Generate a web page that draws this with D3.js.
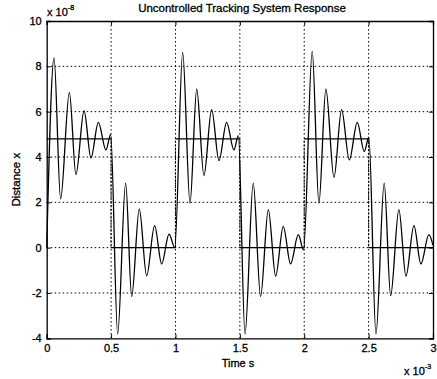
<!DOCTYPE html>
<html>
<head>
<meta charset="utf-8">
<script src="https://cdn.jsdelivr.net/npm/d3@7"></script>
<style>
  body { margin: 0; background: #fff; }
  svg { display: block; font-family: "Liberation Sans", Arial, sans-serif; }
  text { stroke: #000; stroke-width: 0.3px; fill: #000; }
</style>
</head>
<body>
<svg id="chart" width="437" height="379"></svg>
<script>
// time in units of 1e-3 s, distance in units of 1e-8
const xTicks = [0, 0.5, 1, 1.5, 2, 2.5, 3];
const yTicks = [-4, -2, 0, 2, 4, 6, 8, 10];

// reference (square wave input)
const inputTime  = [0, 0.5, 0.5, 1, 1, 1.5, 1.5, 2, 2, 2.5, 2.5, 3];
const inputValue = [4.8, 4.8, 0, 0, 4.8, 4.8, 0, 0, 4.8, 4.8, 0, 0];

// response extrema
const responseTime = [
  0, 0.057, 0.108, 0.176, 0.227, 0.29, 0.344, 0.401, 0.46, 0.497,
  0.551, 0.613, 0.66, 0.719, 0.776, 0.838, 0.893, 0.95, 0.995,
  1.056, 1.113, 1.165, 1.221, 1.281, 1.338, 1.397, 1.454, 1.488,
  1.54, 1.604, 1.661, 1.721, 1.778, 1.837, 1.894, 1.954, 1.995,
  2.062, 2.114, 2.168, 2.231, 2.29, 2.35, 2.412, 2.466, 2.502,
  2.557, 2.621, 2.671, 2.735, 2.79, 2.852, 2.906, 2.968, 3.0
];
const responseValue = [
  0, 8.37, 2.15, 6.85, 3.22, 6.04, 3.96, 5.53, 4.31, 5.0,
  -3.81, 2.85, -2.16, 1.71, -1.24, 0.97, -0.72, 0.6, 0.0,
  8.62, 1.96, 7.0, 3.18, 6.09, 3.84, 5.53, 4.31, 4.94,
  -3.81, 2.85, -2.16, 1.68, -1.26, 0.94, -0.72, 0.57, -0.1,
  8.66, 1.96, 7.0, 3.1, 6.09, 3.87, 5.53, 4.24, 4.87,
  -3.81, 2.85, -2.12, 1.68, -1.26, 0.97, -0.72, 0.57, 0.1
];

const svg = d3.select('#chart');
const m = { left: 46.7, right: 433, top: 21, bottom: 338.3 };

const x = d3.scaleLinear().domain([0, 3]).range([m.left, m.right]);
const y = d3.scaleLinear().domain([-4, 10]).range([m.bottom, m.top]);

// Grid
const grid = svg.append('g').attr('stroke', '#000').attr('stroke-width', 1)
  .attr('stroke-dasharray', '1.5,2.5');
grid.selectAll('line.gx')
  .data(xTicks.slice(1, -1))
  .enter().append('line')
  .attr('x1', d => x(d)).attr('x2', d => x(d))
  .attr('y1', m.top).attr('y2', m.bottom);
grid.selectAll('line.gy')
  .data(yTicks.slice(1, -1))
  .enter().append('line')
  .attr('x1', m.left).attr('x2', m.right)
  .attr('y1', d => y(d)).attr('y2', d => y(d));

// Input square wave
const segs = d3.range(inputTime.length - 1).map(i => ({
  x0: inputTime[i], y0: inputValue[i], x1: inputTime[i + 1], y1: inputValue[i + 1]
}));
svg.append('g').selectAll('line')
  .data(segs)
  .enter().append('line')
  .attr('x1', d => x(d.x0)).attr('y1', d => y(d.y0))
  .attr('x2', d => x(d.x1)).attr('y2', d => y(d.y1))
  .attr('stroke', '#000')
  .attr('stroke-width', 1.1)
  .attr('stroke-dasharray', d => d.x0 === d.x1 ? '2,1.5' : null);

// Response curve
const pts = responseTime.map((t, i) => [t, responseValue[i]]);
svg.append('path')
  .datum(pts)
  .attr('fill', 'none')
  .attr('stroke', '#000')
  .attr('stroke-width', 1.3)
  .attr('d', d3.line().x(d => x(d[0])).y(d => y(d[1])).curve(d3.curveMonotoneX));

// Axes (inward ticks, box)
svg.append('g')
  .attr('transform', `translate(0,${m.bottom})`)
  .call(d3.axisBottom(x).tickValues(xTicks).tickSize(-4).tickPadding(6)
    .tickFormat(d => d));
svg.append('g')
  .attr('transform', `translate(${m.left},0)`)
  .call(d3.axisLeft(y).tickValues(yTicks).tickSize(-4).tickPadding(5)
    .tickFormat(d => d));
svg.append('g')
  .attr('transform', `translate(0,${m.top})`)
  .call(d3.axisTop(x).tickValues(xTicks).tickSize(-4).tickFormat(''));
svg.append('g')
  .attr('transform', `translate(${m.right},0)`)
  .call(d3.axisRight(y).tickValues(yTicks).tickSize(-4).tickFormat(''));

svg.selectAll('.domain').attr('stroke', '#000').attr('stroke-width', 1.3);
svg.selectAll('.tick line').attr('stroke', '#000');
svg.selectAll('.tick text')
  .attr('fill', '#000')
  .style('font-size', '11px')
  .style('font-family', '"Liberation Sans", Arial, sans-serif');

// Title and labels
svg.append('text')
  .attr('x', 242).attr('y', 12)
  .attr('text-anchor', 'middle')
  .style('font-size', '11.5px')
  .text('Uncontrolled Tracking System Response');

svg.append('text')
  .attr('x', 238).attr('y', 367)
  .attr('text-anchor', 'middle')
  .style('font-size', '11px')
  .text('Time s');

svg.append('text')
  .attr('transform', `translate(20,${(m.top + m.bottom) / 2}) rotate(-90)`)
  .attr('text-anchor', 'middle')
  .style('font-size', '11.5px')
  .text('Distance x');

// Exponent labels
const expY = svg.append('text').attr('x', 47).attr('y', 16).style('font-size', '11px');
expY.append('tspan').text('x 10');
expY.append('tspan').attr('dy', -6).style('font-size', '7px').text('-8');

const expX = svg.append('text').attr('x', 404).attr('y', 375).style('font-size', '11px');
expX.append('tspan').text('x 10');
expX.append('tspan').attr('dy', -6).style('font-size', '7px').text('-3');
</script>
</body>
</html>
